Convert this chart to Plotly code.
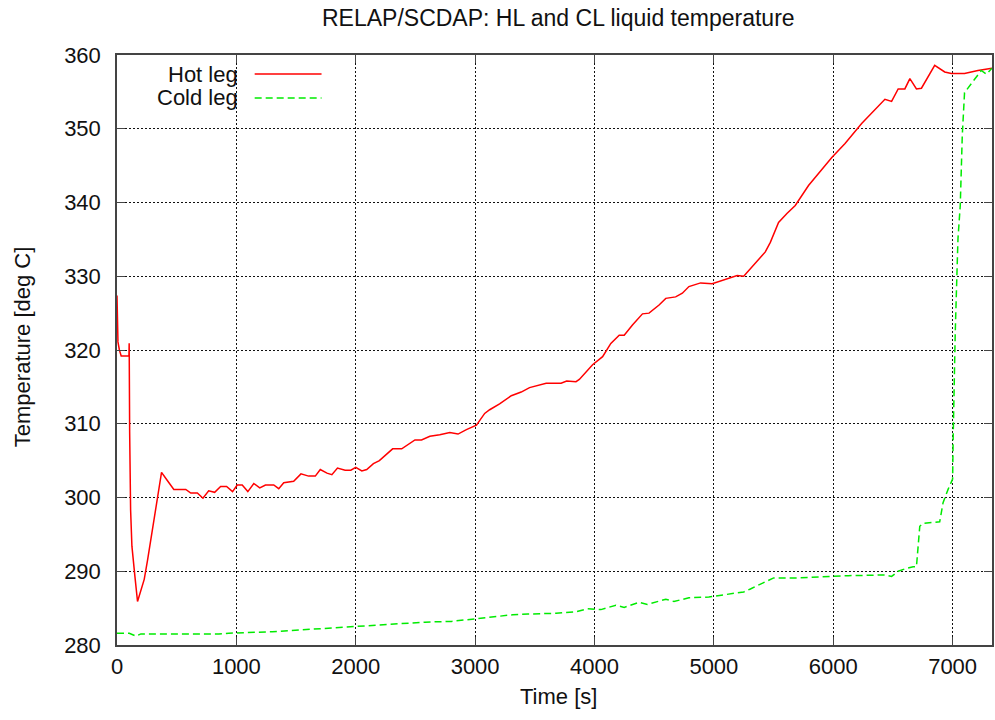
import plotly.graph_objects as go

title_text = "RELAP/SCDAP: HL and CL liquid temperature"
x_title = "Time [s]"
y_title = "Temperature [deg C]"

hot_t = [0, 3, 8, 20, 35, 100, 102, 106, 114, 125, 134, 150, 172, 200, 228, 256, 284,
         326, 342, 373, 417, 476, 576, 618, 673, 720, 768, 818, 868, 918, 968, 1007,
         1049, 1096, 1146, 1196, 1244, 1313, 1355, 1397, 1480, 1541, 1605, 1661, 1703,
         1759, 1800, 1847, 1911, 1959, 2000, 2051, 2092, 2148, 2198, 2309, 2385, 2496,
         2551, 2621, 2704, 2788, 2857, 2927, 3011, 3080, 3122, 3205, 3303, 3386, 3456,
         3595, 3720, 3767, 3845, 3873, 3984, 4068, 4137, 4207, 4249, 4318, 4402, 4457,
         4541, 4597, 4680, 4736, 4791, 4889, 4986, 5098, 5195, 5250, 5375, 5431, 5473,
         5542, 5612, 5682, 5793, 5988, 6099, 6238, 6433, 6489, 6544, 6600, 6642, 6697,
         6739, 6850, 6934, 6989, 7100, 7212, 7330]
hot_T = [327.4, 325.0, 321.1, 320.0, 319.2, 319.2, 320.9, 308.9, 298.3, 293.4, 291.6,
         289.3, 285.9, 287.3, 288.9, 291.5, 294.3, 298.8, 300.6, 303.4, 302.4, 301.1,
         301.1, 300.6, 300.6, 299.9, 300.9, 300.7, 301.5, 301.5, 300.8, 301.7, 301.7,
         300.8, 301.9, 301.3, 301.7, 301.7, 301.2, 302.0, 302.2, 303.2, 302.9, 302.9,
         303.8, 303.3, 303.1, 304.0, 303.7, 303.7, 304.1, 303.6, 303.8, 304.6, 305.0,
         306.6, 306.6, 307.8, 307.8, 308.3, 308.5, 308.8, 308.6, 309.2, 309.8, 311.4,
         311.9, 312.7, 313.8, 314.3, 314.9, 315.5, 315.5, 315.8, 315.7, 316.0, 318.0,
         319.1, 320.9, 322.0, 322.0, 323.4, 324.9, 325.0, 326.1, 327.0, 327.2, 327.7,
         328.6, 329.1, 329.0, 329.6, 330.1, 330.0, 332.2, 333.3, 334.6, 337.3, 338.5,
         339.6, 342.3, 346.1, 348.0, 350.7, 354.0, 353.7, 355.4, 355.4, 356.8, 355.4,
         355.5, 358.6, 357.7, 357.5, 357.5, 357.9, 358.2]

cold_t = [0, 103, 159, 200, 854, 937, 1300, 1494, 1689, 1995, 2245, 2579, 2802, 3011,
          3164, 3316, 3442, 3678, 3845, 3942, 4054, 4179, 4249, 4374, 4443, 4597, 4666,
          4791, 4958, 5083, 5250, 5306, 5390, 5501, 5709, 6127, 6433, 6489, 6544, 6614,
          6669, 6697, 6725, 6753, 6892, 6920, 6962, 7000, 7005, 7011, 7022, 7031, 7045,
          7064, 7081, 7100, 7156, 7197, 7240, 7283, 7330]
cold_T = [281.6, 281.6, 281.2, 281.5, 281.5, 281.6, 281.8, 282.0, 282.2, 282.5, 282.7,
          283.1, 283.2, 283.6, 283.9, 284.1, 284.2, 284.3, 284.5, 284.9, 284.8, 285.4,
          285.1, 285.8, 285.5, 286.2, 285.9, 286.4, 286.5, 286.8, 287.2, 287.6, 288.2,
          289.1, 289.1, 289.4, 289.5, 289.3, 290.0, 290.4, 290.6, 290.6, 296.1, 296.5,
          296.7, 299.3, 301.1, 302.5, 308.4, 314.8, 322.3, 327.4, 335.1, 339.6, 349.1,
          354.9, 356.1, 357.1, 357.9, 357.4, 358.2]

x_ticks = [0, 1000, 2000, 3000, 4000, 5000, 6000, 7000]
y_ticks = [280, 290, 300, 310, 320, 330, 340, 350, 360]
x_range = [0, 7330]
y_range = [280, 360]

RED = "rgb(255,0,0)"
GREEN = "rgb(0,235,0)"
FONT = "Liberation Sans, Arial, Helvetica, sans-serif"

W, H = 995, 720
L, R, T, B = 117, 1, 55, 75
pw, ph = W - L - R, H - T - B


def px(xp):
    return (xp - L) / pw


def py(yp):
    return (H - B - yp) / ph


fig = go.Figure()
fig.add_trace(go.Scatter(x=hot_t, y=hot_T, mode="lines", name="Hot leg",
                         line=dict(color=RED, width=1.5), showlegend=False))
fig.add_trace(go.Scatter(x=cold_t, y=cold_T, mode="lines", name="Cold leg",
                         line=dict(color=GREEN, width=1.5, dash="7px,4px"),
                         showlegend=False))

axis_common = dict(
    showline=True, mirror="ticks", linecolor="#444", linewidth=1.5,
    ticks="inside", ticklen=8, tickcolor="#444", tickwidth=1.2,
    showgrid=True, gridcolor="#111", gridwidth=1, griddash="2px,2px",
    zeroline=False, tickfont=dict(family=FONT, size=22, color="#111"),
)

fig.update_xaxes(range=x_range, tickvals=x_ticks, ticklabelstandoff=1, **axis_common)
fig.update_yaxes(range=y_range, tickvals=y_ticks, ticklabelstandoff=10, **axis_common)

annotations = [
    dict(text=title_text, xref="paper", yref="paper", x=px(560), y=py(18),
         xanchor="center", yanchor="middle", showarrow=False,
         font=dict(family=FONT, size=23, color="#111")),
    dict(text=x_title, xref="paper", yref="paper", x=px(560), y=py(696),
         xanchor="center", yanchor="middle", showarrow=False,
         font=dict(family=FONT, size=22, color="#111")),
    dict(text=y_title, xref="paper", yref="paper", x=px(22), y=py(347),
         xanchor="center", yanchor="middle", showarrow=False, textangle=-90,
         font=dict(family=FONT, size=22, color="#111")),
    dict(text="Hot leg", xref="paper", yref="paper", x=px(240), y=py(74),
         xanchor="right", yanchor="middle", showarrow=False,
         font=dict(family=FONT, size=22, color="#111")),
    dict(text="Cold leg", xref="paper", yref="paper", x=px(240), y=py(98),
         xanchor="right", yanchor="middle", showarrow=False,
         font=dict(family=FONT, size=22, color="#111")),
]

shapes = [
    dict(type="line", xref="paper", yref="paper", x0=px(255), x1=px(322),
         y0=py(74), y1=py(74), line=dict(color=RED, width=1.5)),
    dict(type="line", xref="paper", yref="paper", x0=px(255), x1=px(322),
         y0=py(98), y1=py(98), line=dict(color=GREEN, width=1.5, dash="7px,4px")),
]

fig.update_layout(
    width=W, height=H, margin=dict(l=L, r=R, t=T, b=B, pad=0),
    paper_bgcolor="white", plot_bgcolor="white",
    annotations=annotations, shapes=shapes, showlegend=False,
)

fig.write_html("out.html")
